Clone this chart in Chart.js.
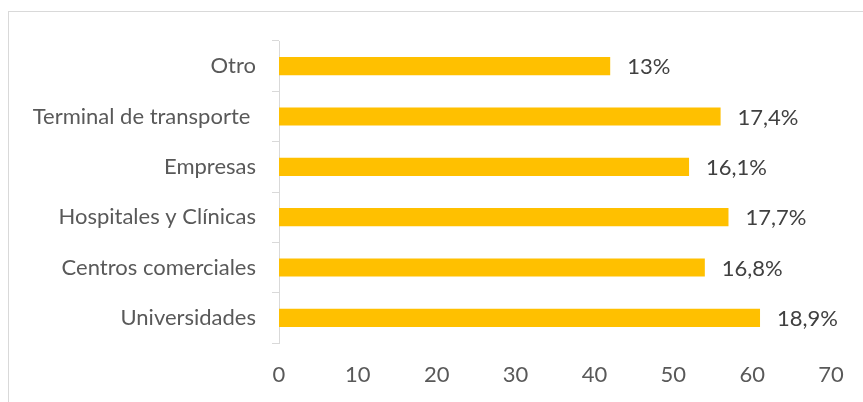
<!DOCTYPE html>
<html>
<head>
<meta charset="utf-8">
<script src="https://cdn.jsdelivr.net/npm/chart.js@4.4.1/dist/chart.umd.min.js"></script>
<style>
  html, body { margin: 0; padding: 0; background: #fff; }
  #wrap { position: relative; width: 863px; height: 402px; overflow: hidden; }
  #frame { position: absolute; left: 8px; top: 11px; width: 900px; height: 450px; border: 1px solid #d9d9d9; box-sizing: border-box; }
  #chart { position: absolute; left: 0; top: 0; }
</style>
</head>
<body>
<div id="wrap">
  <div id="frame"></div>
  <canvas id="chart" width="863" height="402"></canvas>
</div>
<script>
// lugares donde se usa el servicio (respuestas) y su porcentaje
const categorias = ['Otro', 'Terminal de transporte ', 'Empresas', 'Hospitales y Clínicas', 'Centros comerciales', 'Universidades'];
const respuestas = [42, 56, 52, 57, 54, 61];
const porcentajes = ['13%', '17,4%', '16,1%', '17,7%', '16,8%', '18,9%'];
const ticksX = [0, 10, 20, 30, 40, 50, 60, 70];

const FONT = 'Lato, "Open Sans", sans-serif';

// etiqueta de porcentaje al final de cada barra
const etiquetas = {
  id: 'etiquetas',
  afterDatasetsDraw(chart) {
    const { ctx } = chart;
    const meta = chart.getDatasetMeta(0);
    ctx.save();
    ctx.font = `22px ${FONT}`;
    ctx.fillStyle = '#404040';
    ctx.textAlign = 'left';
    ctx.textBaseline = 'middle';
    meta.data.forEach((bar, i) => {
      ctx.fillText(porcentajes[i], bar.x + 17, bar.y + 1);
    });
    ctx.restore();
  }
};

new Chart(document.getElementById('chart').getContext('2d'), {
  type: 'bar',
  data: {
    labels: categorias,
    datasets: [{
      data: respuestas,
      backgroundColor: '#FFC000',
      categoryPercentage: 1,
      barPercentage: 0.36
    }]
  },
  options: {
    indexAxis: 'y',
    responsive: false,
    animation: false,
    layout: { padding: { top: 41, right: 32, left: 0, bottom: 0 } },
    plugins: { legend: { display: false }, tooltip: { enabled: false } },
    scales: {
      x: {
        min: 0,
        max: 70,
        afterBuildTicks: s => { s.ticks = ticksX.map(v => ({ value: v })); },
        grid: { display: false },
        border: { display: false },
        ticks: { color: '#595959', font: { family: FONT, size: 22 }, padding: 11 },
        afterFit: s => { s.height = 59; }
      },
      y: {
        grid: { drawOnChartArea: false, drawTicks: true, tickLength: 7, color: '#d9d9d9' },
        border: { color: '#d9d9d9', width: 1 },
        ticks: { color: '#595959', font: { family: FONT, size: 22 }, padding: 16 },
        afterFit: s => { s.width = 279; }
      }
    }
  },
  plugins: [etiquetas]
});
</script>
</body>
</html>
